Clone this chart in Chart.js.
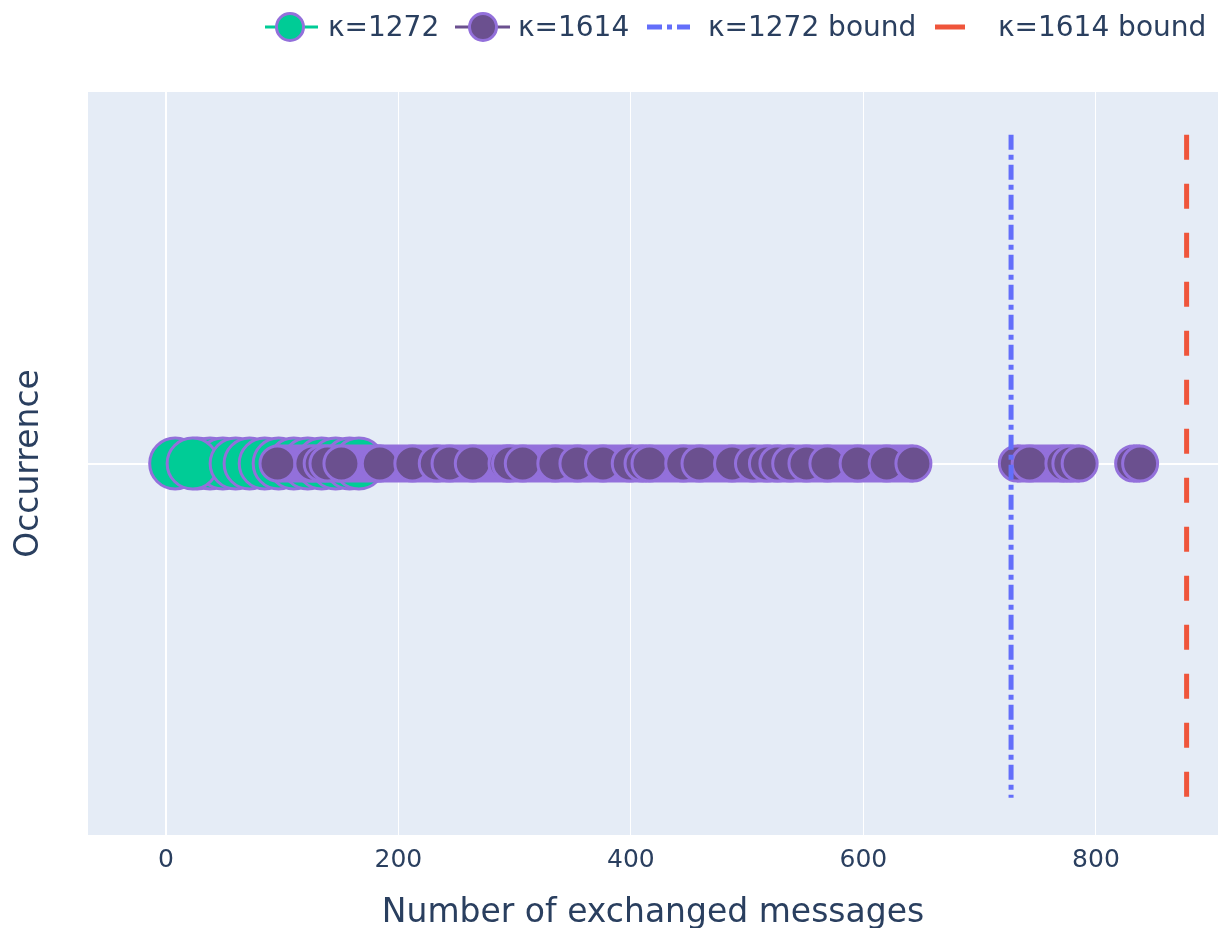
<!DOCTYPE html>
<html>
<head>
<meta charset="utf-8">
<script src="https://cdn.jsdelivr.net/npm/chart.js@4.4.1/dist/chart.umd.min.js"></script>
<style>
  html, body { margin: 0; padding: 0; background: #fff; }
  #wrap { position: relative; width: 1218px; height: 928px; }
  #legend { position: absolute; top: 0; left: 0; width: 1218px; height: 54px;
            font-family: 'DejaVu Sans'; font-size: 28px; color: #2a3f5f; }
  .item { position: absolute; top: 0; height: 54px; }
  .item svg { position: absolute; left: 0; top: 0; }
  .item span { position: absolute; left: 66px; top: 27px; transform: translateY(-50%);
               white-space: nowrap; line-height: 1; }
</style>
</head>
<body>
<div id="wrap">
  <canvas id="chart" width="1218" height="928"></canvas>
  <div id="legend"></div>
</div>
<script>
// series names
const seriesNames = ['κ=1272', 'κ=1614'];
const boundNames = ['κ=1272 bound', 'κ=1614 bound'];

// exchanged messages per run
const k1272Msgs = [8, 27, 38, 49, 23, 60, 72, 85, 97, 110, 122, 134, 146, 158, 166];
const k1614Msgs = [96, 126, 134, 139, 151, 182, 184, 212, 233, 244, 264, 293, 296, 307, 335, 354,
                   376, 399, 410, 416, 445, 459, 487, 505, 517, 526, 537, 551, 569, 595, 620, 643,
                   732, 743, 772, 778, 786, 832, 838];

// theoretical bounds
const boundValues = [727, 878];
const boundSpan = [0.885, -0.9];

// axes
const xTicks = [0, 200, 400, 600, 800];
const xRange = [-67, 905];
const yRange = [-1, 1];

const GREEN = '#00cc96', PURPLE = '#6b508f', EDGE = '#9370db';
const BLUE = '#636efa', RED = '#ef553b', INK = '#2a3f5f';

Chart.defaults.font.family = 'DejaVu Sans';
Chart.defaults.color = INK;

const toPoints = xs => xs.map(x => ({ x: x, y: 0 }));
const boundPoints = v => boundSpan.map(y => ({ x: v, y: y }));

const plotBg = {
    id: 'plotBg',
    beforeDraw(chart) {
        const { ctx, chartArea: a } = chart;
        ctx.save();
        ctx.fillStyle = '#fff';
        ctx.fillRect(0, 0, chart.width, chart.height);
        ctx.fillStyle = '#e5ecf6';
        ctx.fillRect(a.left, a.top, a.right - a.left, a.bottom - a.top);
        ctx.restore();
    }
};

new Chart(document.getElementById('chart'), {
    type: 'scatter',
    data: {
        datasets: [
            {
                label: seriesNames[0],
                data: toPoints(k1272Msgs),
                showLine: true,
                borderColor: GREEN,
                borderWidth: 2,
                pointRadius: 25.5,
                pointBackgroundColor: GREEN,
                pointBorderColor: EDGE,
                pointBorderWidth: 3,
                order: 4
            },
            {
                label: seriesNames[1],
                data: toPoints(k1614Msgs),
                showLine: true,
                borderColor: EDGE,
                borderWidth: 38,
                borderCapStyle: 'butt',
                // dense runs merge into one band, wide gaps stay open
                segment: {
                    borderColor: c => (c.p1.parsed.x - c.p0.parsed.x > 35 ? 'rgba(0,0,0,0)' : EDGE)
                },
                pointRadius: 17.5,
                pointBackgroundColor: PURPLE,
                pointBorderColor: EDGE,
                pointBorderWidth: 3,
                order: 3
            },
            {
                label: boundNames[0],
                data: boundPoints(boundValues[0]),
                showLine: true,
                borderColor: BLUE,
                borderWidth: 5,
                borderDash: [15, 5, 5, 5],
                pointRadius: 0,
                order: 2
            },
            {
                label: boundNames[1],
                data: boundPoints(boundValues[1]),
                showLine: true,
                borderColor: RED,
                borderWidth: 5,
                borderDash: [25, 24],
                pointRadius: 0,
                order: 1
            }
        ]
    },
    options: {
        responsive: false,
        animation: false,
        events: [],
        devicePixelRatio: 1,
        layout: { autoPadding: false, padding: { top: 92, left: 0, right: 0, bottom: 0 } },
        plugins: { legend: { display: false }, tooltip: { enabled: false } },
        scales: {
            x: {
                type: 'linear',
                min: xRange[0],
                max: xRange[1],
                afterBuildTicks: s => { s.ticks = xTicks.map(v => ({ value: v })); },
                afterFit: s => { s.height = 93; s.paddingLeft = 0; s.paddingRight = 0; },
                grid: {
                    color: '#fff',
                    lineWidth: c => (c.tick && c.tick.value === 0 ? 2 : 1),
                    drawTicks: false
                },
                border: { display: false },
                ticks: { padding: 10, font: { size: 25 }, color: INK },
                title: {
                    display: true,
                    text: 'Number of exchanged messages',
                    font: { size: 33, lineHeight: 0.9 },
                    color: INK,
                    padding: { top: 0, bottom: 0 }
                }
            },
            y: {
                type: 'linear',
                min: yRange[0],
                max: yRange[1],
                afterBuildTicks: s => { s.ticks = [{ value: 0 }]; },
                afterFit: s => { s.width = 88; },
                grid: { color: '#fff', lineWidth: 2, drawTicks: false },
                border: { display: false },
                ticks: { display: false },
                title: {
                    display: true,
                    text: 'Occurrence',
                    font: { size: 33, lineHeight: 1.2 },
                    color: INK,
                    padding: { top: 10, bottom: 0 }
                }
            }
        }
    },
    plugins: [plotBg]
});

// legend in the plotly style: line through marker
const legendItems = [
    { name: seriesNames[0], left: 262,
      icon: `<line x1="3" y1="27" x2="56" y2="27" stroke="${GREEN}" stroke-width="3"/>` +
            `<circle cx="28" cy="27" r="13.5" fill="${GREEN}" stroke="${EDGE}" stroke-width="3"/>` },
    { name: seriesNames[1], left: 452,
      icon: `<line x1="3" y1="27" x2="58" y2="27" stroke="${PURPLE}" stroke-width="3"/>` +
            `<circle cx="31" cy="27" r="13.5" fill="${PURPLE}" stroke="${EDGE}" stroke-width="3"/>` },
    { name: boundNames[0], left: 642,
      icon: `<line x1="5" y1="27" x2="48" y2="27" stroke="${BLUE}" stroke-width="5" stroke-dasharray="15,5,5,5"/>` },
    { name: boundNames[1], left: 932,
      icon: `<line x1="3" y1="27" x2="33" y2="27" stroke="${RED}" stroke-width="5"/>` }
];
const legend = document.getElementById('legend');
legendItems.forEach(it => {
    const div = document.createElement('div');
    div.className = 'item';
    div.style.left = it.left + 'px';
    div.innerHTML = `<svg width="64" height="54">${it.icon}</svg><span></span>`;
    div.querySelector('span').textContent = it.name;
    legend.appendChild(div);
});
</script>
</body>
</html>
